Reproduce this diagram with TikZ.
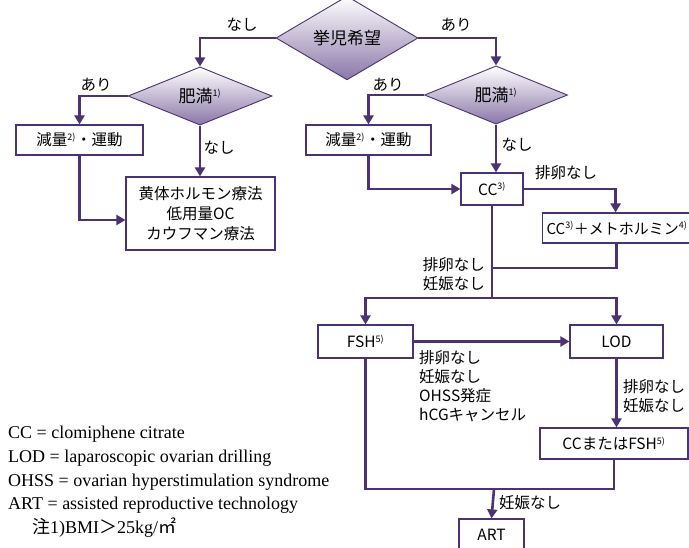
\documentclass[tikz,border=0pt]{standalone}
\usepackage{fontspec}
\setmainfont{Liberation Serif}
\newfontfamily\jfont{Noto Sans CJK JP}
\usetikzlibrary{arrows.meta}
\usetikzlibrary{shapes.geometric}
\definecolor{lineviolet}{RGB}{76,50,112}
\definecolor{shadeviolet}{RGB}{138,118,168}
\newcommand{\nt}[1]{\textsuperscript{\fontsize{9}{9}\selectfont #1)}}

\begin{document}
\begin{tikzpicture}[x=1pt, y=-1pt,
    choice/.style={diamond, draw=lineviolet, line width=0.9pt, top color=white,
      bottom color=shadeviolet, inner sep=0pt, font=\jfont\fontsize{17}{20}\selectfont},
    stage/.style={draw=lineviolet, line width=1.2pt, fill=white, inner sep=0pt,
      font=\jfont\fontsize{15.5}{20}\selectfont, align=center},
    flow/.style={draw=lineviolet, line width=2.6pt, -{Triangle[length=9pt,width=10pt]}},
    link/.style={draw=lineviolet, line width=2.6pt},
    tag/.style={inner sep=0pt, font=\jfont\fontsize{15.5}{19}\selectfont, align=left},
    gloss/.style={anchor=west, inner sep=0pt, font=\fontsize{18}{20}\selectfont}]
    \useasboundingbox (0,0) rectangle (689,547);
    \clip (0,0) rectangle (689,547);

    \node[choice, minimum width=142pt, minimum height=56pt] (wish) at (347,38) {挙児希望};
    \node[choice, minimum width=144pt, minimum height=54pt] (obeL) at (200,96) {肥満\nt{1}};
    \node[choice, minimum width=143pt, minimum height=55pt] (obeR) at (496,95) {肥満\nt{1}};

    \node[stage, minimum width=127pt, minimum height=30pt] (lossL) at (79.5,140) {減量\nt{2}・運動};
    \node[stage, minimum width=125pt, minimum height=30pt] (lossR) at (368.5,140) {減量\nt{2}・運動};
    \node[stage, minimum width=149pt, minimum height=73pt] (horm) at (200.5,213.5)
      {黄体ホルモン療法\\低用量OC\\カウフマン療法};
    \node[stage, minimum width=62pt, minimum height=32pt] (cc) at (492,189) {CC\nt{3}};
    \node[stage, anchor=west, minimum height=30pt, inner xsep=4pt, text width=148pt, align=left,
      font=\jfont\fontsize{15}{20}\selectfont] (ccmet) at (542,228) {CC\nt{3}＋メトホルミン\nt{4}};
    \node[stage, minimum width=95pt, minimum height=33pt] (fsh) at (365.5,341.5) {FSH\nt{5}};
    \node[stage, minimum width=93pt, minimum height=33pt] (lod) at (616.5,341.5) {LOD};
    \node[stage, minimum width=148pt, minimum height=31pt] (ccfsh) at (614,443.5) {CCまたはFSH\nt{5}};
    \node[stage, minimum width=65pt, minimum height=32pt] (art) at (491.5,535) {ART};

    \coordinate (join) at (492,268);
    \coordinate (split) at (492,298);
    \coordinate (merge) at (494,489);

    \draw[flow] (wish.west) -| (obeL.north);
    \draw[flow] (wish.east) -| (obeR.north);
    \draw[flow] (obeL.west) -| (lossL.north);
    \draw[flow] (obeL.south) -- (obeL.south |- horm.north);
    \draw[flow] (lossL.south) |- ([yshift=-6.5pt]horm.west);
    \draw[flow] (obeR.west) -| (lossR.north);
    \draw[flow] (obeR.south) -- (obeR.south |- cc.north);
    \draw[flow] (lossR.south) |- (cc.west);
    \draw[flow] (cc.east) -| ([xshift=-5pt]ccmet.north);
    \draw[link] (cc.south) -- (split);
    \draw[link] ([xshift=-4pt]ccmet.south) |- (join);
    \draw[flow] (split) -| (fsh.north);
    \draw[flow] (split) -| (lod.north);
    \draw[flow] (fsh.east) -- (lod.west);
    \draw[flow] (lod.south) -- (lod.south |- ccfsh.north);
    \draw[link] (fsh.south) |- (merge);
    \draw[link] (ccfsh.south) |- (merge);
    \draw[flow] (merge) -- (art.north);

    \node[tag] (noL) at (242,25) {なし};
    \node[tag] (yesR) at (456,25) {あり};
    \node[tag] (yesL) at (96,85) {あり};
    \node[tag] (noLb) at (219,148) {なし};
    \node[tag] (yesRb) at (388,85) {あり};
    \node[tag] (noRb) at (517,145) {なし};
    \node[tag] (anovA) at (566,173) {排卵なし};
    \node[tag, anchor=east] (anovB) at (485,274) {排卵なし\\妊娠なし};
    \node[tag, anchor=west] (fail) at (419,386.5) {排卵なし\\妊娠なし\\OHSS発症\\hCGキャンセル};
    \node[tag, anchor=west] (anovC) at (623,396) {排卵なし\\妊娠なし};
    \node[tag, anchor=west] (nopreg) at (499,503) {妊娠なし};

    \node[gloss] (gCC) at (8,434) {CC = clomiphene citrate};
    \node[gloss] (gLOD) at (8,458) {LOD = laparoscopic ovarian drilling};
    \node[gloss] (gOHSS) at (8,482) {OHSS = ovarian hyperstimulation syndrome};
    \node[gloss] (gART) at (8,505) {ART = assisted reproductive technology};
    \node[gloss] (gNote) at (32,528) {{\jfont 注}1)BMI{\jfont ＞}25kg/{\jfont ㎡}};
\end{tikzpicture}
\end{document}
